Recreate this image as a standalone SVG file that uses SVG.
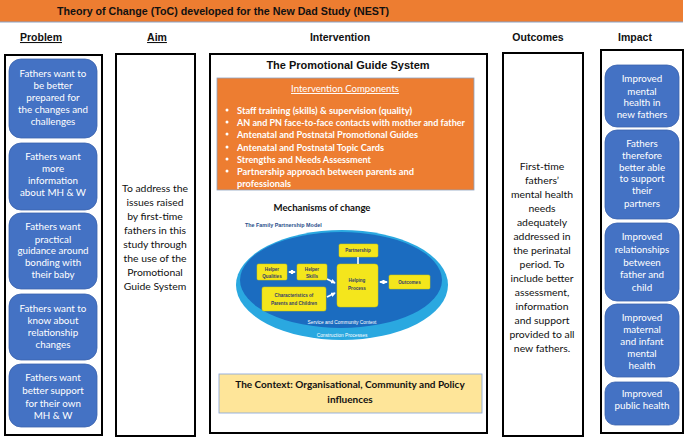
<svg xmlns="http://www.w3.org/2000/svg" width="685" height="438" viewBox="0 0 685 438">
<style>
.hdr{font-family:"Liberation Sans",Arial,sans-serif;font-weight:bold;font-size:10.5px;fill:#111;text-anchor:middle}
.col{fill:#fff;stroke:#000;stroke-width:2}
.pb{fill:#4472c4;stroke:#3a62ad;stroke-width:0.8}
.pt{font-family:Lato,"Open Sans",sans-serif;font-size:9.8px;fill:#fff;text-anchor:middle}
.bt{font-family:Lato,"Open Sans",sans-serif;font-size:10.4px;fill:#111;text-anchor:middle}
.ct{font-family:Lato,"Open Sans",sans-serif;font-size:9.4px;font-weight:bold;fill:#fff}
.yb{fill:#f4e61c;stroke:#d8c800;stroke-width:0.5}
.yt{font-family:"Liberation Sans",Arial,sans-serif;font-size:4.6px;font-weight:bold;fill:#34406a;text-anchor:middle}
.wl{stroke:#fff;stroke-width:1.6;fill:none}
</style>
<defs>
<marker id="ah" viewBox="0 0 6 6" refX="5" refY="3" markerWidth="3" markerHeight="3" orient="auto-start-reverse">
<path d="M0,0 L6,3 L0,6 z" fill="#fff"/>
</marker>
</defs>
<rect width="685" height="438" fill="#fff"/>

<g id="title">
<rect x="0" y="0" width="683" height="22" fill="#ed7d31"/>
<line x1="0" y1="22" x2="683" y2="22" stroke="#8aa3c6" stroke-width="1"/>
<text x="57" y="15" font-family="Liberation Sans,Arial,sans-serif" font-weight="bold" font-size="10.5" fill="#111" textLength="332" lengthAdjust="spacingAndGlyphs">Theory of Change (ToC) developed for the New Dad Study (NEST)</text>
</g>

<g id="headers">
<text class="hdr" x="41" y="41" text-decoration="underline">Problem</text>
<text class="hdr" x="157" y="41" text-decoration="underline">Aim </text>
<text class="hdr" x="340" y="41">Intervention</text>
<text class="hdr" x="538" y="41">Outcomes</text>
<text class="hdr" x="635" y="41">Impact</text>
</g>

<g id="problem">
<rect class="col" x="5" y="55" width="97" height="380"/>
<g id="p1"><rect class="pb" x="9" y="59" width="88" height="79" rx="12"/>
<text class="pt"><tspan x="53" y="77">Fathers want to</tspan><tspan x="53" y="89">be  better</tspan><tspan x="53" y="101">prepared for</tspan><tspan x="53" y="113">the changes and</tspan><tspan x="53" y="125">challenges</tspan></text></g>
<g id="p2"><rect class="pb" x="9" y="143" width="88" height="67" rx="12"/>
<text class="pt"><tspan x="53" y="160">Fathers want</tspan><tspan x="53" y="172">more</tspan><tspan x="53" y="184">information</tspan><tspan x="53" y="196">about MH &amp; W</tspan></text></g>
<g id="p3"><rect class="pb" x="9" y="213" width="88" height="76" rx="12"/>
<text class="pt"><tspan x="53" y="230">Fathers want</tspan><tspan x="53" y="243">practical</tspan><tspan x="53" y="254">guidance around</tspan><tspan x="53" y="266">bonding with</tspan><tspan x="53" y="278">their baby</tspan></text></g>
<g id="p4"><rect class="pb" x="9" y="294" width="88" height="66" rx="12"/>
<text class="pt"><tspan x="53" y="312">Fathers want to</tspan><tspan x="53" y="324">know about</tspan><tspan x="53" y="336">relationship</tspan><tspan x="53" y="348">changes</tspan></text></g>
<g id="p5"><rect class="pb" x="9" y="364" width="88" height="63" rx="12"/>
<text class="pt"><tspan x="53" y="381">Fathers want</tspan><tspan x="53" y="394">better support</tspan><tspan x="53" y="407">for their own</tspan><tspan x="53" y="419">MH &amp; W</tspan></text></g>
</g>

<g id="aim">
<rect class="col" x="116" y="54" width="79" height="382"/>
<text class="bt"><tspan x="155" y="192">To address the</tspan><tspan x="155" y="206">issues raised</tspan><tspan x="155" y="220">by first-time</tspan><tspan x="155" y="234">fathers in this</tspan><tspan x="155" y="248">study through</tspan><tspan x="155" y="262">the use of the</tspan><tspan x="155" y="276">Promotional</tspan><tspan x="155" y="290">Guide System</tspan></text>
</g>

<g id="intervention">
<rect class="col" x="210" y="54" width="277" height="379"/>
<text x="348" y="69" font-family="Liberation Sans,Arial,sans-serif" font-weight="bold" font-size="11" fill="#111" text-anchor="middle">The Promotional Guide System</text>
<g id="components">
<rect x="217" y="78" width="257" height="112" fill="#ed7d31" stroke="#8da2c0" stroke-width="0.8"/>
<text x="345" y="92" font-family="Lato,sans-serif" font-size="9.6" fill="#fff" text-anchor="middle" text-decoration="underline">Intervention Components</text>
<g class="ct">
<circle cx="227" cy="110" r="1.5" fill="#fff"/><text x="237" y="113.5" textLength="175" lengthAdjust="spacingAndGlyphs">Staff training (skills) &amp; supervision (quality)</text>
<circle cx="227" cy="122" r="1.5" fill="#fff"/><text x="237" y="125.5" textLength="228" lengthAdjust="spacingAndGlyphs">AN and PN face-to-face contacts with mother and father</text>
<circle cx="227" cy="134" r="1.5" fill="#fff"/><text x="237" y="137.5" textLength="181" lengthAdjust="spacingAndGlyphs">Antenatal and Postnatal Promotional Guides</text>
<circle cx="227" cy="147" r="1.5" fill="#fff"/><text x="237" y="150.5" textLength="147" lengthAdjust="spacingAndGlyphs">Antenatal and Postnatal Topic Cards</text>
<circle cx="227" cy="159" r="1.5" fill="#fff"/><text x="237" y="162.5" textLength="134" lengthAdjust="spacingAndGlyphs">Strengths and Needs Assessment</text>
<circle cx="227" cy="171" r="1.5" fill="#fff"/><text x="237" y="174.5" textLength="177" lengthAdjust="spacingAndGlyphs">Partnership approach between parents and</text>
<text x="237" y="186.5" textLength="54" lengthAdjust="spacingAndGlyphs">professionals</text>
</g>
</g>
<text x="322" y="210.5" font-family="Lato,sans-serif" font-weight="bold" font-size="9.6" fill="#111" text-anchor="middle">Mechanisms of change</text>

<g id="fpm">
<text x="245" y="227" font-family="Liberation Sans,Arial,sans-serif" font-weight="bold" font-size="5.4" fill="#2b4f8c">The Family Partnership Model</text>
<ellipse cx="342" cy="285" rx="106" ry="55" fill="#2aa8e0"/>
<ellipse cx="341" cy="280" rx="101" ry="48" fill="#1b6cc0"/>
<text x="342" y="324" font-family="Liberation Sans,Arial,sans-serif" font-size="4.8" fill="#fff" text-anchor="middle">Service and Community Context</text>
<text x="342" y="337" font-family="Liberation Sans,Arial,sans-serif" font-size="4.8" fill="#fff" text-anchor="middle">Construction Processes</text>
<g id="n-partnership"><rect class="yb" x="339" y="244" width="39" height="13" rx="1.5"/><text class="yt" x="358" y="252">Partnership</text></g>
<g id="n-qualities"><rect class="yb" x="257" y="264" width="30" height="16" rx="1.5"/><text class="yt"><tspan x="272" y="271">Helper</tspan><tspan x="272" y="278">Qualities</tspan></text></g>
<g id="n-skills"><rect class="yb" x="297" y="264" width="30" height="16" rx="1.5"/><text class="yt"><tspan x="312" y="271">Helper</tspan><tspan x="312" y="278">Skills</tspan></text></g>
<g id="n-process"><rect class="yb" x="337" y="264" width="41" height="43" rx="3"/><text class="yt"><tspan x="357" y="282">Helping</tspan><tspan x="357" y="290">Process</tspan></text></g>
<g id="n-outcomes"><rect class="yb" x="389" y="275" width="41" height="14" rx="1.5"/><text class="yt" x="409.5" y="284">Outcomes</text></g>
<g id="n-characteristics"><rect class="yb" x="262" y="287" width="64" height="24" rx="2"/><text class="yt"><tspan x="294" y="297">Characteristics of</tspan><tspan x="294" y="305">Parents and Children</tspan></text></g>
<g id="connectors">
<line class="wl" x1="289" y1="272" x2="295" y2="272" marker-start="url(#ah)" marker-end="url(#ah)"/>
<line class="wl" x1="327" y1="279" x2="335" y2="283" marker-end="url(#ah)"/>
<line class="wl" x1="327" y1="297" x2="335" y2="293" marker-end="url(#ah)"/>
<line class="wl" x1="358" y1="257" x2="358" y2="264"/>
<line class="wl" x1="380" y1="282" x2="387" y2="282" marker-start="url(#ah)" marker-end="url(#ah)"/>
</g>
</g>

<g id="context">
<rect x="219" y="374" width="263" height="39" fill="#fee599" stroke="#8faadc" stroke-width="0.9"/>
<text font-family="Lato,sans-serif" font-weight="bold" font-size="10" fill="#111" text-anchor="middle"><tspan x="350" y="388">The Context: Organisational, Community and Policy</tspan><tspan x="350" y="402.5">influences</tspan></text>
</g>
</g>

<g id="outcomes">
<rect class="col" x="503" y="53" width="80" height="383"/>
<text class="bt"><tspan x="542" y="170">First-time</tspan><tspan x="542" y="184">fathers’</tspan><tspan x="542" y="198">mental health</tspan><tspan x="542" y="212">needs</tspan><tspan x="542" y="226">adequately</tspan><tspan x="542" y="240">addressed in</tspan><tspan x="542" y="254">the perinatal</tspan><tspan x="542" y="268">period. To</tspan><tspan x="542" y="282">include better</tspan><tspan x="542" y="296">assessment,</tspan><tspan x="542" y="310">information</tspan><tspan x="542" y="324">and support</tspan><tspan x="542" y="338">provided to all</tspan><tspan x="542" y="352">new fathers.</tspan></text>
</g>

<g id="impact">
<rect class="col" x="601" y="50" width="82" height="383"/>
<g id="i1"><rect class="pb" x="605" y="65" width="74" height="62" rx="12"/>
<text class="pt"><tspan x="642" y="82">Improved</tspan><tspan x="642" y="95">mental</tspan><tspan x="642" y="106">health in</tspan><tspan x="642" y="118">new fathers</tspan></text></g>
<g id="i2"><rect class="pb" x="605" y="130" width="74" height="89" rx="12"/>
<text class="pt"><tspan x="642" y="147">Fathers</tspan><tspan x="642" y="159">therefore</tspan><tspan x="642" y="171">better able</tspan><tspan x="642" y="182">to support</tspan><tspan x="642" y="194">their</tspan><tspan x="642" y="207">partners</tspan></text></g>
<g id="i3"><rect class="pb" x="605" y="223" width="74" height="78" rx="12"/>
<text class="pt"><tspan x="642" y="240">Improved</tspan><tspan x="642" y="253">relationships</tspan><tspan x="642" y="266">between</tspan><tspan x="642" y="278">father and</tspan><tspan x="642" y="291">child</tspan></text></g>
<g id="i4"><rect class="pb" x="605" y="304" width="74" height="73" rx="12"/>
<text class="pt"><tspan x="642" y="321">Improved</tspan><tspan x="642" y="333">maternal</tspan><tspan x="642" y="345">and infant</tspan><tspan x="642" y="357">mental</tspan><tspan x="642" y="369">health</tspan></text></g>
<g id="i5"><rect class="pb" x="605" y="382" width="74" height="43" rx="10"/>
<text class="pt"><tspan x="642" y="397">Improved</tspan><tspan x="642" y="409">public health</tspan></text></g>
</g>
</svg>
